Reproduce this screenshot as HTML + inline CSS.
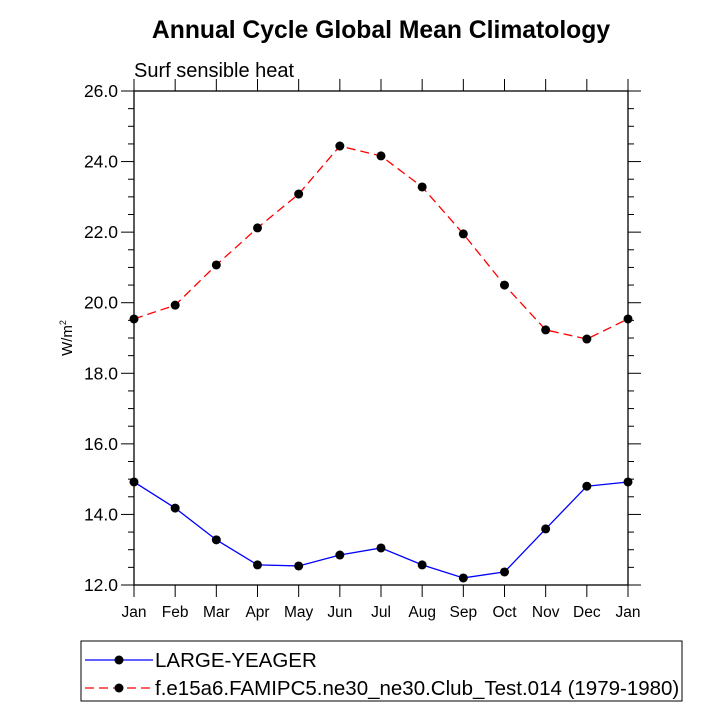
<!DOCTYPE html>
<html><head><meta charset="utf-8"><style>
body{margin:0;background:#fff;}
svg{display:block;font-family:"Liberation Sans",Arial,sans-serif;}
</style></head><body>
<svg id="chart" width="727" height="727" viewBox="0 0 727 727">
<text x="381" y="38" text-anchor="middle" font-size="24.7" font-weight="bold">Annual Cycle Global Mean Climatology</text>
<text x="134" y="77" font-size="20">Surf sensible heat</text>
<text transform="translate(72,338) rotate(-90)" text-anchor="middle" font-size="15">W/m<tspan font-size="9" dy="-6">2</tspan></text>
<g id="axes"></g>
<g id="series"></g>
<g id="legend"></g>
</svg>
<script>
const months=["Jan","Feb","Mar","Apr","May","Jun","Jul","Aug","Sep","Oct","Nov","Dec","Jan"];
const yTicks=[12,14,16,18,20,22,24,26];
const redValues=[19.54,19.93,21.07,22.12,23.08,24.44,24.16,23.28,21.95,20.5,19.23,18.97,19.54];
const blueValues=[14.92,14.18,13.28,12.57,12.54,12.85,13.05,12.57,12.2,12.37,13.59,14.8,14.92];
const redName="f.e15a6.FAMIPC5.ne30_ne30.Club_Test.014 (1979-1980)";
const blueName="LARGE-YEAGER";

const L=134,R=628,T=91,B=585,NS="http://www.w3.org/2000/svg";
const xS=i=>L+i*(R-L)/(months.length-1);
const yS=v=>B-(v-12)*(B-T)/14;
function mk(tag,attrs,parent){const e=document.createElementNS(NS,tag);for(const k in attrs)e.setAttribute(k,attrs[k]);parent.appendChild(e);return e;}
const ax=document.getElementById('axes');
const frame=mk('rect',{x:L,y:T,width:R-L,height:B-T,fill:'none',stroke:'#000','stroke-width':1.3},ax);


for(let v=12;v<=26.001;v+=0.5){
  const y=yS(v),major=Math.abs(v-Math.round(v/2)*2)<1e-6,len=major?13:6;
  const t1=mk('line',{x1:L-len,x2:L,y1:y,y2:y,stroke:'#000','stroke-width':1},ax);
  
  
  const t2=mk('line',{x1:R,x2:R+len,y1:y,y2:y,stroke:'#000','stroke-width':1},ax);
  
  
}
yTicks.forEach(v=>{
  const t=mk('text',{x:L-16,y:yS(v)+6,'text-anchor':'end','font-size':17.5},ax);t.textContent=v.toFixed(1);
  
  
});
months.forEach((m,i)=>{
  const x=xS(i);
  const a=mk('line',{x1:x,x2:x,y1:B,y2:B+12,stroke:'#000','stroke-width':1},ax);
  
  
  const b=mk('line',{x1:x,x2:x,y1:T-12,y2:T,stroke:'#000','stroke-width':1},ax);
  
  
  const t=mk('text',{x:x,y:B+32,'text-anchor':'middle','font-size':15.5},ax);t.textContent=m;
  
  
});
const sg=document.getElementById('series');
function series(vals,color,dash,name){
  const pl=mk('polyline',{points:vals.map((v,i)=>xS(i)+','+yS(v)).join(' '),fill:'none',stroke:color,'stroke-width':1.3,'stroke-dasharray':dash},sg);
  
  
  vals.forEach((v,i)=>{
    const c=mk('circle',{cx:xS(i),cy:yS(v),r:4.5,fill:'#000'},sg);
    
    
  });
}
series(blueValues,'#0000ff','none','large-yeager');
series(redValues,'#ff0000','9 5','famipc5');
const lg=document.getElementById('legend');
const box=mk('rect',{x:81,y:641,width:601,height:60,fill:'#fff',stroke:'#000','stroke-width':1},lg);


function entry(y,color,dash,label,name){
  const l=mk('line',{x1:85,x2:153,y1:y,y2:y,stroke:color,'stroke-width':1.3,'stroke-dasharray':dash},lg);
  
  
  const c=mk('circle',{cx:119,cy:y,r:4.5,fill:'#000'},lg);
  
  
  const t=mk('text',{x:155,y:y+7,'font-size':20.5},lg);t.textContent=label;
  
  
}
entry(660,'#0000ff','none',blueName,'large-yeager');
entry(688,'#ff0000','9 5',redName,'famipc5');
</script>
</body></html>
